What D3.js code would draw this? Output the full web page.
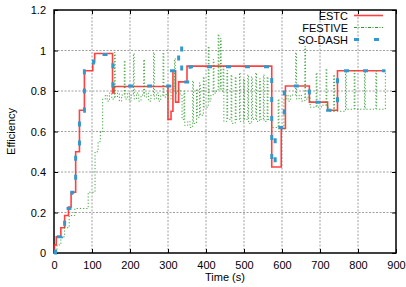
<!DOCTYPE html>
<html>
<head>
<meta charset="utf-8">
<script src="https://cdn.jsdelivr.net/npm/d3@7"></script>
<style>
  body { margin: 0; background: #fff; }
  text { font-family: "Liberation Sans", Arial, sans-serif; }
</style>
</head>
<body>
<div id="chart"></div>
<script>
// tick values
const xTicks = [0, 100, 200, 300, 400, 500, 600, 700, 800, 900];
const yTicks = [0, 0.2, 0.4, 0.6, 0.8, 1, 1.2];

// [time, efficiency] step points
const estc = [
  [0, 0], [1, 0.04], [6, 0.08], [18, 0.125], [28, 0.185], [38, 0.227], [45, 0.30],
  [57, 0.50], [67, 0.705], [80, 0.90], [102, 0.943], [107, 0.985], [154, 0.79],
  [158, 0.822], [300, 0.66], [308, 0.70], [313, 0.90], [320, 0.745], [328, 0.845],
  [350, 0.923], [573, 0.425], [598, 0.615], [609, 0.825], [672, 0.745], [720, 0.705],
  [746, 0.90], [872, 0.90]
];

const festive = [
  [0, 0], [8, 0.04], [18, 0.08], [28, 0.125], [40, 0.185], [55, 0.22], [90, 0.30],
  [108, 0.50], [116, 0.55], [122, 0.60], [128, 0.76],
  [135, 0.78], [140, 0.75], [146, 0.79], [152, 0.76], [159, 0.99], [161, 0.77],
  [167, 0.79], [172, 0.75], [178, 0.78], [185, 0.95], [187, 0.76], [193, 0.79],
  [198, 0.75], [203, 0.78], [209, 0.985], [211, 0.76], [217, 0.79], [223, 0.75],
  [229, 0.78], [236, 0.955], [238, 0.77], [244, 0.79], [249, 0.75], [255, 0.78],
  [262, 0.99], [264, 0.76], [270, 0.79], [275, 0.75], [281, 0.78], [287, 0.99],
  [289, 0.77], [295, 0.79], [301, 0.76], [308, 0.81], [317, 0.96], [319, 0.79],
  [326, 0.81], [332, 0.78],
  [337, 0.66], [342, 0.80], [344, 0.63], [352, 0.65], [358, 0.62], [365, 0.85],
  [367, 0.64], [375, 0.81], [377, 0.67], [383, 0.84], [385, 0.68], [393, 0.87],
  [395, 0.72], [406, 1.02], [408, 0.75], [413, 0.78], [419, 0.955], [421, 0.79],
  [427, 0.80], [432, 1.08], [434, 0.81], [438, 1.06], [440, 0.80],
  [445, 0.92], [447, 0.65], [455, 0.90], [457, 0.66], [466, 0.88], [468, 0.64],
  [477, 0.87], [479, 0.66], [488, 0.89], [490, 0.65], [499, 0.86], [501, 0.66],
  [510, 0.88], [512, 0.64], [520, 0.87], [522, 0.66], [531, 0.89], [533, 0.65],
  [541, 0.86], [543, 0.66], [551, 0.88], [553, 0.65], [561, 0.87], [563, 0.66],
  [573, 0.62], [590, 0.76], [592, 0.61], [605, 0.76], [611, 0.78], [616, 0.75],
  [622, 0.78], [636, 0.99], [638, 0.76], [645, 0.78], [651, 0.75], [660, 1.02],
  [662, 0.76], [668, 0.77],
  [674, 0.72], [690, 0.89], [692, 0.72], [704, 0.73], [716, 0.91], [718, 0.72],
  [724, 0.70], [736, 0.88], [738, 0.70],
  [767, 0.90], [769, 0.71], [790, 0.90], [792, 0.71], [817, 0.90], [819, 0.71],
  [847, 0.90], [849, 0.71], [872, 0.90]
];

const sodash = [
  [0, 0], [4, 0.08], [20, 0.125], [28, 0.185], [37, 0.22], [47, 0.30], [57, 0.50],
  [67, 0.70], [80, 0.90], [104, 0.98], [155, 0.825], [305, 0.90], [328, 1.025],
  [336, 0.845], [358, 0.92], [573, 0.43], [582, 0.62], [606, 0.825], [672, 0.745],
  [720, 0.705], [746, 0.90], [872, 0.90]
];

const seriesNames = ["ESTC", "FESTIVE", "SO-DASH"];

const W = 406, H = 287;
const margin = { top: 10, right: 10, bottom: 34, left: 54 };
const w = W - margin.left - margin.right,
  h = H - margin.top - margin.bottom;

const svg = d3.select("#chart").append("svg")
  .attr("width", W).attr("height", H);

const g = svg.append("g")
  .attr("transform", `translate(${margin.left},${margin.top})`);

const x = d3.scaleLinear().domain([0, 900]).range([0, w]);
const y = d3.scaleLinear().domain([0, 1.2]).range([h, 0]);

// grid
g.selectAll(".vgrid").data(xTicks.slice(1, -1)).enter().append("line")
  .attr("x1", d => x(d)).attr("x2", d => x(d))
  .attr("y1", 0).attr("y2", h)
  .attr("stroke", "#888").attr("stroke-dasharray", "2,1.5").attr("stroke-width", 0.8);
g.selectAll(".hgrid").data(yTicks.slice(1, -1)).enter().append("line")
  .attr("y1", d => y(d)).attr("y2", d => y(d))
  .attr("x1", 0).attr("x2", w)
  .attr("stroke", "#888").attr("stroke-dasharray", "2,1.5").attr("stroke-width", 0.8);

// axes, ticks pointing in, mirrored
const fmtY = d => d3.format("~g")(d);
g.append("g").attr("transform", `translate(0,${h})`)
  .call(d3.axisBottom(x).tickValues(xTicks).tickSizeInner(-4).tickSizeOuter(0).tickPadding(8));
g.append("g")
  .call(d3.axisLeft(y).tickValues(yTicks).tickFormat(fmtY).tickSizeInner(-4).tickSizeOuter(0).tickPadding(8));
g.append("g")
  .call(d3.axisTop(x).tickValues(xTicks).tickSizeInner(-4).tickSizeOuter(0).tickFormat(""));
g.append("g").attr("transform", `translate(${w},0)`)
  .call(d3.axisRight(y).tickValues(yTicks).tickSizeInner(-4).tickSizeOuter(0).tickFormat(""));

g.selectAll(".domain").remove();
g.selectAll(".tick line").attr("stroke", "#000").attr("stroke-width", 1);
g.selectAll(".tick text")
  .attr("font-size", 11).attr("fill", "#000")
  .style("font-family", "'Liberation Sans', Arial, sans-serif");

g.append("rect")
  .attr("width", w).attr("height", h)
  .attr("fill", "none").attr("stroke", "#000").attr("stroke-width", 1.5);

// lines
const line = d3.line()
  .x(d => x(d[0])).y(d => y(d[1]))
  .curve(d3.curveStepAfter);

g.append("path").datum(estc)
  .attr("d", line)
  .attr("fill", "none").attr("stroke", "#ff2020").attr("stroke-width", 1.6)
  .attr("stroke-opacity", 0.85);

//festive is the noisy one, thin dotted
g.append("path").datum(festive)
  .attr("d", line)
  .attr("fill", "none").attr("stroke", "#2a9a2a").attr("stroke-width", 0.9)
  .attr("stroke-dasharray", "1.2,2");

g.append("path").datum(sodash)
  .attr("d", line)
  .attr("fill", "none").attr("stroke", "#3399cc").attr("stroke-width", 3)
  .attr("stroke-dasharray", "5,14");

// axis labels
svg.append("text")
  .attr("x", margin.left + w / 2).attr("y", 281)
  .attr("text-anchor", "middle").attr("font-size", 11)
  .text("Time (s)");

svg.append("text")
  .attr("transform", `translate(15,${margin.top + h / 2}) rotate(-90)`)
  .attr("text-anchor", "middle").attr("font-size", 11)
  .text("Efficiency");

// legend
const legend = svg.append("g");
const legendStyles = [
  { stroke: "#ff2020", width: 1.6, dash: null, opacity: 0.85 },
  { stroke: "#2a9a2a", width: 1, dash: "3,1.5,1,1.5", opacity: 1 },
  { stroke: "#3399cc", width: 3, dash: "5,15", opacity: 1 }
];
seriesNames.forEach((name, i) => {
  const yy = 15.5 + i * 12;
  legend.append("text")
    .attr("x", 348).attr("y", yy + 4)
    .attr("text-anchor", "end").attr("font-size", 11)
    .text(name);
  legend.append("line")
    .attr("x1", 354).attr("x2", 383)
    .attr("y1", yy).attr("y2", yy)
    .attr("stroke", legendStyles[i].stroke)
    .attr("stroke-width", legendStyles[i].width)
    .attr("stroke-opacity", legendStyles[i].opacity)
    .attr("stroke-dasharray", legendStyles[i].dash);
});
</script>
</body>
</html>
